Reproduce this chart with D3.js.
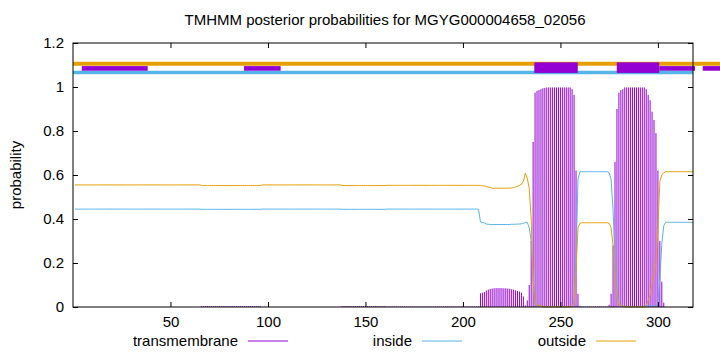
<!DOCTYPE html>
<html lang="en">
<head>
  <meta charset="UTF-8">
  <title>TMHMM posterior probabilities</title>
  <style>
    body { margin: 0; background: #fff; }
    svg text {
      font-family: 'Liberation Sans', Arial, sans-serif;
      font-size: 15px;
      fill: #000;
    }
  </style>
</head>
<body>
  <svg width="720" height="352"></svg>
  <script src="https://cdn.jsdelivr.net/npm/d3@7"></script>
  <script>
    // posterior probabilities, one value per residue (1..318)
    var inside = [
      .445,.445,.445,.445,.445,.445,.445,.445,.445,.445, // 1-10
      .445,.445,.445,.445,.445,.445,.445,.445,.445,.445,
      .445,.445,.445,.445,.445,.445,.445,.445,.445,.445,
      .445,.445,.445,.445,.445,.445,.445,.445,.445,.445,
      .445,.445,.445,.445,.445,.445,.445,.445,.445,.445,
      .445,.445,.445,.445,.445,.445,.445,.445,.445,.445, // 51-60
      .445,.445,.445,.445,.445,.444,.444,.444,.444,.444, // 61-70
      .444,.444,.444,.444,.444,.444,.444,.444,.444,.444,
      .444,.444,.444,.444,.444,.444,.444,.444,.444,.444,
      .444,.444,.444,.444,.444,.444,.445,.445,.445,.445, // 91-100
      .445,.445,.445,.445,.445,.445,.445,.445,.445,.445,
      .445,.445,.445,.445,.445,.445,.445,.445,.445,.445,
      .445,.445,.445,.445,.445,.445,.445,.445,.445,.445,
      .445,.445,.445,.445,.445,.445,.445,.444,.444,.444, // 131-140
      .444,.444,.444,.444,.444,.444,.444,.444,.444,.444,
      .444,.444,.444,.444,.444,.444,.444,.444,.444,.444, // 151-160
      .445,.445,.445,.445,.445,.445,.445,.445,.445,.445,
      .445,.445,.445,.445,.445,.445,.445,.445,.445,.445,
      .445,.445,.445,.445,.445,.445,.445,.445,.445,.445,
      .445,.445,.445,.445,.445,.445,.445,.445,.445,.445, // 191-200
      .445,.445,.445,.445,.445,.445,.445,.444,.386,.384, // 201-210
      .382,.377,.376,.375,.375,.375,.375,.375,.375,.375,
      .375,.375,.375,.375,.376,.376,.376,.377,.377,.378,
      .380,.385,.385,.360,.300,.130,.012,.008,.007,.005, // 231-240
      .001,.001,.001,.001,.001,.001,.001,.001,.001,.001,
      .001,.001,.001,.001,.001,.005,.020,.220,.580,.615, // 251-260
      .615,.615,.615,.615,.615,.615,.615,.615,.615,.615,
      .615,.615,.615,.615,.610,.580,.440,.210,.060,.014, // 271-280
      .007,.005,.001,.001,.001,.001,.001,.001,.001,.001,
      .001,.001,.001,.005,.006,.005,.004,.004,.005,.020, // 291-300
      .130,.285,.370,.385,.385,.385,.385,.385,.385,.385,
      .385,.385,.385,.385,.385,.385,.385,.385            // 311-318
    ]

    var outside = [
      .555,.555,.555,.555,.555,.555,.555,.555,.555,.555, // 1-10
      .555,.555,.555,.555,.555,.555,.555,.555,.555,.555,
      .555,.555,.555,.555,.555,.555,.555,.555,.555,.555,
      .555,.555,.555,.555,.555,.555,.555,.555,.555,.555,
      .555,.555,.555,.555,.555,.555,.555,.555,.555,.555,
      .555,.555,.555,.555,.555,.555,.555,.555,.555,.555, // 51-60
      .555,.555,.555,.555,.555,.552,.552,.552,.552,.552, // 61-70
      .552,.552,.552,.552,.552,.552,.552,.552,.552,.552,
      .552,.552,.552,.552,.552,.552,.552,.552,.552,.552,
      .552,.552,.552,.552,.552,.552,.555,.555,.555,.555, // 91-100
      .555,.555,.555,.555,.555,.555,.555,.555,.555,.555,
      .555,.555,.555,.555,.555,.555,.555,.555,.555,.555,
      .555,.555,.555,.555,.555,.555,.555,.555,.555,.555,
      .555,.555,.555,.555,.555,.555,.555,.552,.552,.552, // 131-140
      .552,.552,.552,.552,.552,.552,.552,.552,.552,.552,
      .552,.552,.552,.552,.552,.552,.552,.552,.552,.552, // 151-160
      .553,.553,.553,.553,.553,.553,.553,.553,.553,.553,
      .553,.553,.553,.553,.553,.553,.553,.553,.553,.553,
      .553,.553,.553,.553,.553,.553,.553,.553,.553,.553,
      .553,.553,.553,.553,.553,.553,.553,.553,.553,.553, // 191-200
      .553,.553,.553,.553,.553,.553,.553,.553,.552,.551, // 201-210
      .550,.548,.545,.543,.540,.540,.540,.540,.540,.540,
      .540,.540,.540,.540,.541,.543,.546,.549,.553,.557,
      .572,.608,.585,.540,.400,.120,.014,.009,.007,.005, // 231-240
      .001,.001,.001,.001,.001,.001,.001,.001,.001,.001,
      .001,.001,.001,.001,.001,.005,.016,.160,.360,.380, // 251-260
      .383,.383,.383,.383,.383,.383,.383,.383,.383,.383,
      .383,.383,.383,.383,.380,.360,.280,.130,.040,.012, // 271-280
      .007,.005,.001,.001,.001,.001,.001,.001,.001,.001,
      .001,.001,.001,.005,.030,.055,.108,.146,.205,.360, // 291-300
      .570,.600,.610,.615,.615,.615,.615,.615,.615,.615,
      .615,.615,.615,.615,.615,.615,.615,.615            // 311-318
    ]

    var transmembrane = [
      0,0,0,0,0,0,0,0,0,0, // 1-10
      0,0,0,0,0,0,0,0,0,0,
      0,0,0,0,0,0,0,0,0,0,
      0,0,0,0,0,0,0,0,0,0,
      0,0,0,0,0,0,0,0,0,0,
      0,0,0,0,0,0,0,0,0,0, // 51-60
      0,0,0,0,0,.004,.004,.004,.004,.004, // 61-70
      .004,.004,.004,.004,.004,.004,.004,.004,.004,.004,
      .004,.004,.004,.004,.004,.004,.004,.004,.004,.004,
      .004,.004,.004,.004,.004,.004,0,0,0,0, // 91-100
      0,0,0,0,0,0,0,0,0,0,
      0,0,0,0,0,0,0,0,0,0,
      0,0,0,0,0,0,0,0,0,0,
      0,0,0,0,0,0,0,.004,.004,.004, // 131-140
      .004,.004,.004,.004,.004,.004,.004,.004,.004,.004,
      .004,.004,.004,.004,.004,.004,.004,.004,.004,.004, // 151-160
      .002,.002,.002,.002,.002,.002,.002,.002,.002,.002,
      .002,.002,.002,.002,.002,.002,.002,.002,.002,.002,
      .002,.002,.002,.002,.002,.002,.002,.002,.002,.002,
      .002,.002,.002,.002,.002,.002,.002,.002,.002,.002, // 191-200
      .002,.002,.002,.002,.002,.002,.002,.003,.062,.065, // 201-210
      .068,.075,.079,.082,.084,.085,.086,.086,.086,.086,
      .085,.085,.084,.083,.081,.079,.076,.073,.070,.065,
      .048,.007,.030,.100,.300,.750,.974,.983,.986,.990, // 231-240
      .994,.996,.998,.998,.998,.998,.998,.998,.998,.998,
      .998,.998,.998,.998,.998,.990,.964,.620,.060,.005, // 251-260
      .002,.002,.002,.002,.002,.002,.002,.002,.002,.002,
      .002,.002,.002,.002,.010,.060,.280,.660,.900,.974, // 271-280
      .986,.990,.998,.998,.998,.998,.998,.998,.998,.998,
      .998,.998,.998,.990,.964,.940,.888,.850,.790,.620, // 291-300
      .300,.115,.020,0,0,0,0,0,0,0,
      0,0,0,0,0,0,0,0                    // 311-318
    ]

    // predicted topology strip above the plot: [start, end] in residues
    var tmBoxes = [[236.6, 258.9], [278.9, 300.7]]
    var thinBoxes = [[4.5, 38.3], [87.7, 106.5], [300.7, 319], [323, 332]]
    var outsideSpan = [0, 332]
    var insideSpan = [0, 318]

    var xTicks = [50, 100, 150, 200, 250, 300]
    var yTicks = [0, 0.2, 0.4, 0.6, 0.8, 1, 1.2]
    var yTickLabels = ['0', '0.2', '0.4', '0.6', '0.8', '1', '1.2']

    var series = [
      { name: 'transmembrane', color: '#9400d3' },
      { name: 'inside', color: '#56b4e9' },
      { name: 'outside', color: '#e69f00' }
    ]

    var svg = d3.select('svg')
    var plotL = 73, plotR = 693, plotT = 43, plotB = 307

    var x = d3.scaleLinear().domain([0, 318]).range([plotL, plotR])
    var y = d3.scaleLinear().domain([0, 1.2]).range([plotB, plotT])

    // title + axis label
    svg.append('text')
      .attr('x', (plotL + plotR) / 2 + 2)
      .attr('y', 25)
      .attr('text-anchor', 'middle')
      .text('TMHMM posterior probabilities for MGYG000004658_02056')

    svg.append('text')
      .attr('transform', 'translate(21,' + (plotT + plotB) / 2 + ') rotate(-90)')
      .attr('text-anchor', 'middle')
      .text('probability')

    // transmembrane as impulses
    svg.append('g')
      .selectAll('line')
      .data(transmembrane)
      .join('line')
      .attr('x1', function(d, i) { return x(i + 1) })
      .attr('x2', function(d, i) { return x(i + 1) })
      .attr('y1', y(0))
      .attr('y2', function(d) { return y(d) })
      .attr('stroke', series[0].color)
      .attr('stroke-width', 1)

    var line = d3.line()
      .x(function(d, i) { return x(i + 1) })
      .y(function(d) { return y(d) })

    svg.append('path')
      .attr('d', line(inside))
      .attr('fill', 'none')
      .attr('stroke', series[1].color)
      .attr('stroke-width', 1)

    svg.append('path')
      .attr('d', line(outside))
      .attr('fill', 'none')
      .attr('stroke', series[2].color)
      .attr('stroke-width', 1)

    // topology strip
    svg.append('line')
      .attr('x1', x(outsideSpan[0])).attr('x2', x(outsideSpan[1]))
      .attr('y1', y(1.106)).attr('y2', y(1.106))
      .attr('stroke', '#e69f00').attr('stroke-width', 4)

    svg.append('line')
      .attr('x1', x(insideSpan[0])).attr('x2', x(insideSpan[1]))
      .attr('y1', y(1.066)).attr('y2', y(1.066))
      .attr('stroke', '#56b4e9').attr('stroke-width', 3.4)

    svg.append('g')
      .selectAll('rect')
      .data(thinBoxes)
      .join('rect')
      .attr('x', function(d) { return x(d[0]) })
      .attr('width', function(d) { return x(d[1]) - x(d[0]) })
      .attr('y', y(1.095))
      .attr('height', y(1.074) - y(1.095))
      .attr('fill', '#9400d3')

    svg.append('g')
      .selectAll('rect')
      .data(tmBoxes)
      .join('rect')
      .attr('x', function(d) { return x(d[0]) })
      .attr('width', function(d) { return x(d[1]) - x(d[0]) })
      .attr('y', y(1.112))
      .attr('height', y(1.064) - y(1.112))
      .attr('fill', '#9400d3')

    // axes, ticks point inwards and are mirrored
    svg.append('g')
      .attr('transform', 'translate(0,' + plotB + ')')
      .call(d3.axisBottom(x).tickValues(xTicks).tickSize(-5).tickPadding(9))
    svg.append('g')
      .attr('transform', 'translate(' + plotL + ',0)')
      .call(d3.axisLeft(y).tickValues(yTicks).tickSize(-5).tickPadding(9)
        .tickFormat(function(d, i) { return yTickLabels[i] }))
    svg.append('g')
      .attr('transform', 'translate(0,' + plotT + ')')
      .call(d3.axisTop(x).tickValues(xTicks).tickSize(-5).tickFormat(''))
    svg.append('g')
      .attr('transform', 'translate(' + plotR + ',0)')
      .call(d3.axisRight(y).tickValues(yTicks).tickSize(-5).tickFormat(''))

    svg.selectAll('.domain').remove()
    svg.selectAll('.tick line').attr('stroke', '#000')
    svg.selectAll('g').attr('font-family', null).attr('font-size', null)

    svg.append('rect')
      .attr('x', plotL).attr('y', plotT)
      .attr('width', plotR - plotL).attr('height', plotB - plotT)
      .attr('fill', 'none')
      .attr('stroke', '#000')
      .attr('stroke-width', 1)

    // legend along the bottom
    var legend = svg.append('g')
      .selectAll('g')
      .data(series)
      .join('g')
      .attr('transform', function(d, i) { return 'translate(' + (238 + i * 174) + ',341)' })

    legend.append('text')
      .attr('text-anchor', 'end')
      .attr('dy', '0.35em')
      .text(function(d) { return d.name })

    legend.append('line')
      .attr('x1', 10).attr('x2', 50)
      .attr('stroke', function(d) { return d.color })
      .attr('stroke-width', 1)
  </script>
</body>
</html>
